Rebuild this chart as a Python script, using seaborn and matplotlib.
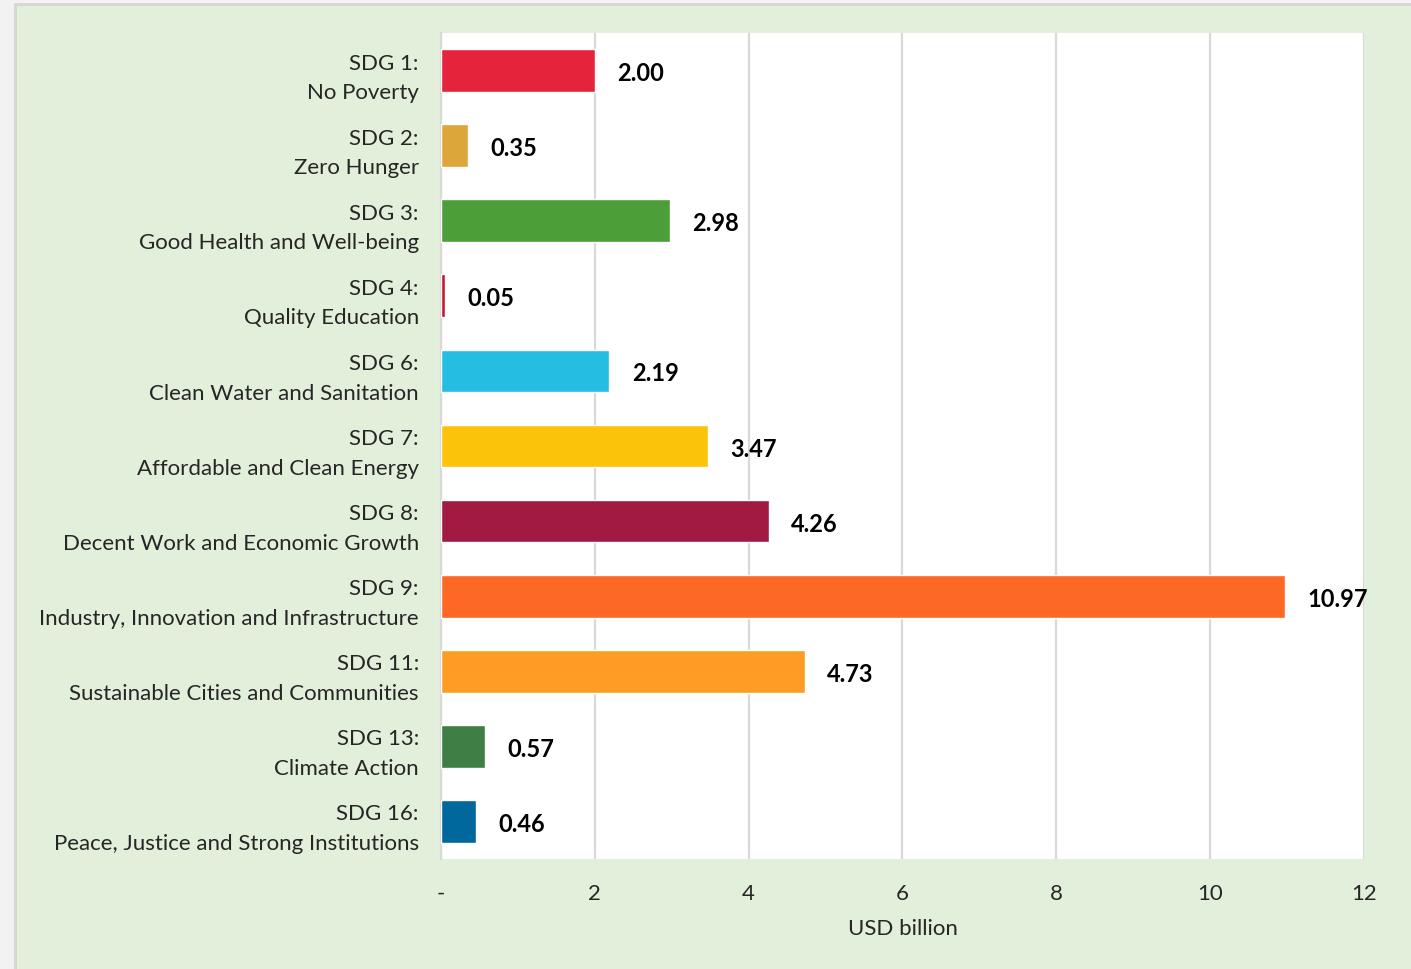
import matplotlib
matplotlib.use("Agg")
import matplotlib.pyplot as plt
import matplotlib.patches as patches
import seaborn as sns
import pandas as pd

# data
labels = [
    "SDG 1:\nNo Poverty",
    "SDG 2:\nZero Hunger",
    "SDG 3:\nGood Health and Well-being",
    "SDG 4:\nQuality Education",
    "SDG 6:\nClean Water and Sanitation",
    "SDG 7:\nAffordable and Clean Energy",
    "SDG 8:\nDecent Work and Economic Growth",
    "SDG 9:\nIndustry, Innovation and Infrastructure",
    "SDG 11:\nSustainable Cities and Communities",
    "SDG 13:\nClimate Action",
    "SDG 16:\nPeace, Justice and Strong Institutions",
]
values = [2.00, 0.35, 2.98, 0.05, 2.19, 3.47, 4.26, 10.97, 4.73, 0.57, 0.46]
colors = ["#E5243B", "#DDA63A", "#4C9F38", "#C5192D", "#26BDE2", "#FCC30B",
          "#A21942", "#FD6925", "#FD9D24", "#3F7E44", "#00689D"]
xticks = [0, 2, 4, 6, 8, 10, 12]
xtick_labels = ["-", "2", "4", "6", "8", "10", "12"]

df = pd.DataFrame({"label": labels, "value": values})

sns.set_style("white")
plt.rcParams["font.family"] = ["Lato", "DejaVu Sans"]

fig = plt.figure(figsize=(14.11, 9.70), dpi=100)
fig.patch.set_facecolor("#f2f2f2")
# green panel behind the chart
fig.add_artist(patches.Rectangle((15 / 1411, -0.01), 1.0, 1 - 5 / 970 + 0.01,
                                 transform=fig.transFigure, facecolor="#e2efda",
                                 edgecolor="#d6d6d6", linewidth=2, zorder=0))

ax = fig.add_axes([441 / 1411, 1 - 860 / 970, (1364 - 441) / 1411, (860 - 34) / 970])
ax.set_facecolor("white")

sns.barplot(data=df, x="value", y="label", hue="label", palette=dict(zip(labels, colors)),
            legend=False, orient="h", width=0.57, saturation=1, ax=ax, zorder=3)

for i, v in enumerate(values):
    ax.annotate(f"{v:.2f}", xy=(v, i), xytext=(16, -1.5), textcoords="offset points",
                va="center", ha="left", fontsize=17, fontweight="bold", color="black")

ax.set_xlim(0, 12)
ax.set_ylim(10.5, -0.5)
ax.set_xticks(xticks)
ax.set_xticklabels(xtick_labels, fontsize=16)
ax.tick_params(axis="both", length=0)
ax.tick_params(axis="x", pad=17)
ax.tick_params(axis="y", pad=16)
for t in ax.get_yticklabels():
    t.set_fontsize(16)
    t.set_multialignment("right")
    t.set_linespacing(1.6)
ax.xaxis.grid(True, color="#d9d9d9", linewidth=1.6, zorder=0)
ax.set_axisbelow(True)
for s in ["top", "right", "bottom"]:
    ax.spines[s].set_visible(False)
ax.spines["left"].set_color("#d9d9d9")
ax.spines["left"].set_linewidth(1.6)
ax.set_ylabel("")
ax.set_xlabel("USD billion", fontsize=16, labelpad=11)

fig.savefig("out.png", dpi=100, facecolor=fig.get_facecolor())
